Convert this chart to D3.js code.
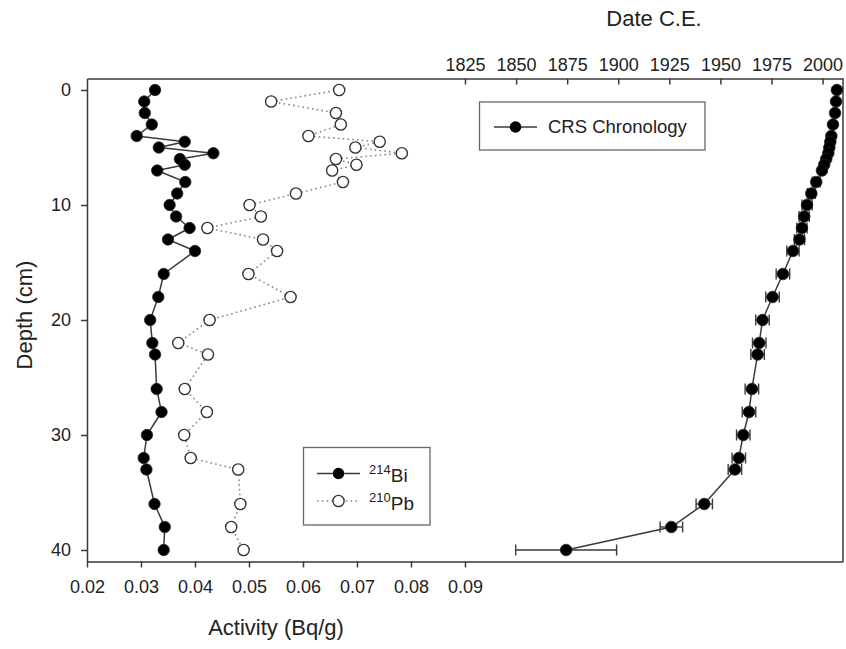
<!DOCTYPE html>
<html>
<head>
<meta charset="utf-8">
<script src="https://cdn.jsdelivr.net/npm/d3@7"></script>
<style>
  html, body { margin: 0; padding: 0; background: #fff; }
  svg { display: block; font-family: "Liberation Sans", Arial, Helvetica, sans-serif; }
  .axis text { font-size: 18px; fill: #222; }
  .axis path, .axis line { stroke: #3a3a3a; stroke-width: 1.5; }
</style>
</head>
<body>
<svg id="chart" width="846" height="649"></svg>
<script>
// Sediment core sampling depths (cm)
const depths = [0, 1, 2, 3, 4, 4.5, 5, 5.5, 6, 6.5, 7, 8, 9, 10, 11, 12, 13, 14,
  16, 18, 20, 22, 23, 26, 28, 30, 32, 33, 36, 38, 40];

// 214Bi activity (Bq/g)
const bi214 = [0.0326, 0.0306, 0.0307, 0.0320, 0.0292, 0.0381, 0.0333, 0.0434, 0.0372, 0.0381,
  0.0330, 0.0382, 0.0367, 0.0353, 0.0365, 0.0390, 0.0350, 0.0400,
  0.0342, 0.0332, 0.0317, 0.0321, 0.0326, 0.0329, 0.0338, 0.0311, 0.0305, 0.0310, 0.0325, 0.0344, 0.0342];

// 210Pb activity (Bq/g)
const pb210 = [0.0667, 0.0541, 0.0661, 0.0670, 0.0610, 0.0742, 0.0697, 0.0783, 0.0661, 0.0699,
  0.0654, 0.0674, 0.0587, 0.0501, 0.0522, 0.0423, 0.0526, 0.0552,
  0.0499, 0.0577, 0.0427, 0.0369, 0.0424, 0.0381, 0.0422, 0.0380, 0.0392, 0.0480, 0.0484, 0.0467, 0.0490];

// CRS model age (year C.E.) and its uncertainty (years)
const crsYear = [2007.0, 2006.6, 2006.1, 2005.1, 2004.3, 2003.8, 2003.3, 2002.8, 2001.8, 2000.8,
  1999.7, 1996.9, 1994.5, 1992.4, 1991.0, 1989.9, 1988.7, 1985.5,
  1980.6, 1975.5, 1970.6, 1969.0, 1968.2, 1965.4, 1964.0, 1961.2, 1959.0, 1957.1, 1942.1, 1926.0, 1874.5];
const crsError = [0.5, 0.5, 0.5, 0.5, 1, 1, 1, 1, 1, 1,
  1, 2, 2, 2.5, 2.5, 2.5, 2.5, 3,
  3.3, 3.3, 3.3, 3.3, 3.3, 3.3, 3.3, 3.3, 3.3, 3.3, 4, 5.5, 24.7];

// Tick values
const depthTicks = [0, 10, 20, 30, 40];
const activityTicks = [0.02, 0.03, 0.04, 0.05, 0.06, 0.07, 0.08, 0.09];
const yearTicks = [1825, 1850, 1875, 1900, 1925, 1950, 1975, 2000];

const svg = d3.select("#chart");
const L = 87, R = 843, T = 78.5, B = 561.5;

const y = d3.scaleLinear().domain([-1, 41]).range([T, B]);
const xAct = d3.scaleLinear().domain([0.02, 0.16]).range([L, R]);
const xYear = d3.scaleLinear().domain([1640, 2010]).range([L, R]);

// Frame: right edge
svg.append("line").attr("x1", R).attr("x2", R).attr("y1", T).attr("y2", B)
  .attr("stroke", "#3a3a3a").attr("stroke-width", 1.5);

// Axes
svg.append("g").attr("class", "axis").attr("transform", `translate(${L},0)`)
  .call(d3.axisLeft(y).tickValues(depthTicks).tickSizeInner(6).tickSizeOuter(0).tickPadding(10));

svg.append("g").attr("class", "axis").attr("transform", `translate(0,${B})`)
  .call(d3.axisBottom(xAct).tickValues(activityTicks).tickFormat(d3.format(".2f"))
    .tickSizeInner(6).tickSizeOuter(0).tickPadding(13));

svg.append("g").attr("class", "axis").attr("transform", `translate(0,${T})`)
  .call(d3.axisTop(xYear).tickValues(yearTicks).tickFormat(d3.format("d"))
    .tickSizeInner(-6).tickSizeOuter(0).tickPadding(8));

// Axis titles
svg.append("text").attr("x", (L + xAct(0.09)) / 2).attr("y", 635)
  .attr("text-anchor", "middle").attr("font-size", 22).attr("fill", "#222")
  .text("Activity (Bq/g)");
svg.append("text").attr("x", (xYear(1825) + R) / 2).attr("y", 26)
  .attr("text-anchor", "middle").attr("font-size", 22).attr("fill", "#222")
  .text("Date C.E.");
svg.append("text").attr("transform", `translate(32,${(T + B) / 2 - 5}) rotate(-90)`)
  .attr("text-anchor", "middle").attr("font-size", 22).attr("fill", "#222")
  .text("Depth (cm)");

const rows = depths.map((d, i) => ({ d, bi: bi214[i], pb: pb210[i], yr: crsYear[i], err: crsError[i] }));

// 210Pb: dotted line + open circles
svg.append("path").datum(rows)
  .attr("d", d3.line().x(r => xAct(r.pb)).y(r => y(r.d)))
  .attr("fill", "none").attr("stroke", "#888").attr("stroke-width", 1.6)
  .attr("stroke-dasharray", "1.6,3.2");
svg.append("g").selectAll("circle").data(rows).join("circle")
  .attr("cx", r => xAct(r.pb)).attr("cy", r => y(r.d)).attr("r", 5.6)
  .attr("fill", "#fff").attr("stroke", "#333").attr("stroke-width", 1.4);

// 214Bi: solid line + filled circles
svg.append("path").datum(rows)
  .attr("d", d3.line().x(r => xAct(r.bi)).y(r => y(r.d)))
  .attr("fill", "none").attr("stroke", "#3a3a3a").attr("stroke-width", 1.5);
svg.append("g").selectAll("circle").data(rows).join("circle")
  .attr("cx", r => xAct(r.bi)).attr("cy", r => y(r.d)).attr("r", 5.7)
  .attr("fill", "#000").attr("stroke", "#222").attr("stroke-width", 0.8);

// CRS chronology: error bars, line and markers
const eb = svg.append("g").attr("stroke", "#3a3a3a").attr("stroke-width", 1.4);
rows.forEach(r => {
  const x0 = xYear(r.yr - r.err), x1 = xYear(r.yr + r.err), cy = y(r.d);
  eb.append("line").attr("x1", x0).attr("x2", x1).attr("y1", cy).attr("y2", cy);
  eb.append("line").attr("x1", x0).attr("x2", x0).attr("y1", cy - 5.5).attr("y2", cy + 5.5);
  eb.append("line").attr("x1", x1).attr("x2", x1).attr("y1", cy - 5.5).attr("y2", cy + 5.5);
});
svg.append("path").datum(rows)
  .attr("d", d3.line().x(r => xYear(r.yr)).y(r => y(r.d)))
  .attr("fill", "none").attr("stroke", "#3a3a3a").attr("stroke-width", 1.5);
svg.append("g").selectAll("circle").data(rows).join("circle")
  .attr("cx", r => xYear(r.yr)).attr("cy", r => y(r.d)).attr("r", 5.8)
  .attr("fill", "#000").attr("stroke", "#222").attr("stroke-width", 0.8);

// Legend: CRS chronology
const lg1 = svg.append("g");
lg1.append("rect").attr("x", 479.5).attr("y", 102).attr("width", 225.5).attr("height", 48)
  .attr("fill", "#fff").attr("stroke", "#666").attr("stroke-width", 1.3);
lg1.append("line").attr("x1", 494).attr("x2", 537).attr("y1", 127).attr("y2", 127)
  .attr("stroke", "#3a3a3a").attr("stroke-width", 1.5);
lg1.append("circle").attr("cx", 515.5).attr("cy", 127).attr("r", 5.8).attr("fill", "#000");
lg1.append("text").attr("x", 548).attr("y", 133).attr("font-size", 18.5).attr("fill", "#222")
  .text("CRS Chronology");

// Legend: isotopes
const lg2 = svg.append("g");
lg2.append("rect").attr("x", 303.5).attr("y", 447.5).attr("width", 126.5).attr("height", 77.5)
  .attr("fill", "#fff").attr("stroke", "#666").attr("stroke-width", 1.3);
lg2.append("line").attr("x1", 317).attr("x2", 360).attr("y1", 473.5).attr("y2", 473.5)
  .attr("stroke", "#3a3a3a").attr("stroke-width", 1.5);
lg2.append("circle").attr("cx", 338.5).attr("cy", 473.5).attr("r", 5.7).attr("fill", "#000");
lg2.append("line").attr("x1", 317).attr("x2", 360).attr("y1", 501).attr("y2", 501)
  .attr("stroke", "#888").attr("stroke-width", 1.6).attr("stroke-dasharray", "1.6,3.2");
lg2.append("circle").attr("cx", 338.5).attr("cy", 501).attr("r", 5.6)
  .attr("fill", "#fff").attr("stroke", "#333").attr("stroke-width", 1.4);

const t1 = lg2.append("text").attr("x", 369).attr("y", 482).attr("fill", "#222");
t1.append("tspan").attr("font-size", 13).attr("dy", -8).text("214");
t1.append("tspan").attr("font-size", 19).attr("dy", 8).text("Bi");
const t2 = lg2.append("text").attr("x", 369).attr("y", 509.5).attr("fill", "#222");
t2.append("tspan").attr("font-size", 13).attr("dy", -8).text("210");
t2.append("tspan").attr("font-size", 19).attr("dy", 8).text("Pb");
</script>
</body>
</html>
